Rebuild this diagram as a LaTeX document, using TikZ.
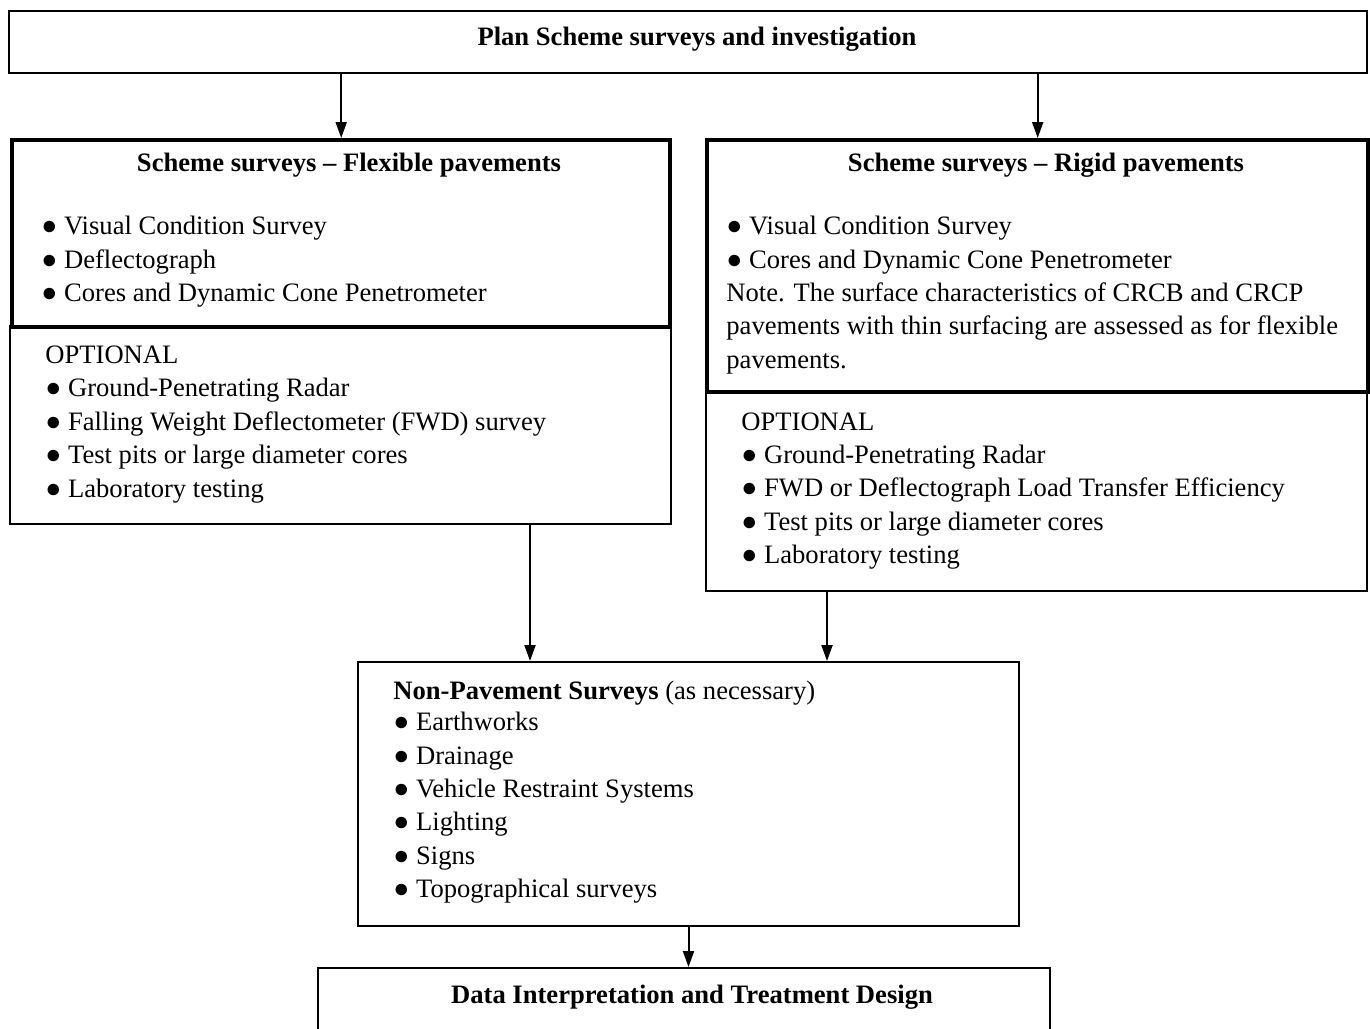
\documentclass[tikz,border=0pt]{standalone}
\usepackage{fontspec}
\setmainfont{Liberation Serif}
\usetikzlibrary{arrows.meta,calc}
\begin{document}
\begin{tikzpicture}[x=0.5pt,y=-0.5pt,
  thinbox/.style={draw=black,line width=1pt,rectangle,inner sep=0pt,anchor=north west},
  thickbox/.style={draw=black,line width=2.2pt,rectangle,inner sep=0pt,anchor=north west},
  txt/.style={anchor=base west,inner sep=0pt,font=\fontsize{13.3}{16.5}\selectfont},
  ctxt/.style={anchor=base,inner sep=0pt,font=\fontsize{13.3}{16.5}\selectfont\bfseries},
  arr/.style={line width=1pt,-{Triangle[length=8pt,width=5.5pt]}}]
\useasboundingbox (0,0) rectangle (1370,1028);
% boxes
\node[thinbox,minimum width=1358*0.5pt,minimum height=62*0.5pt] (top) at (8,10) {};
\node[thinbox,minimum width=661*0.5pt,minimum height=198*0.5pt] (flexopt) at (9,325) {};
\node[thickbox,minimum width=658*0.5pt,minimum height=187*0.5pt] (flex) at (10,138) {};
\node[thinbox,minimum width=661*0.5pt,minimum height=200*0.5pt] (rigopt) at (705,390) {};
\node[thickbox,minimum width=661*0.5pt,minimum height=252*0.5pt] (rig) at (705,138) {};
\node[thinbox,minimum width=661*0.5pt,minimum height=264*0.5pt] (np) at (357,661) {};
\node[thinbox,minimum width=732*0.5pt,minimum height=90*0.5pt] (design) at (317,967) {};
% texts
\node[ctxt] (ttop) at (697,45) {Plan Scheme surveys and investigation};
\node[ctxt] (tflex) at (349,171) {Scheme surveys – Flexible pavements};
\node[txt] (f1) at (41,234) {● Visual Condition Survey};
\node[txt] (f2) at (41,268) {● Deflectograph};
\node[txt] (f3) at (41,301) {● Cores and Dynamic Cone Penetrometer};
\node[txt] (fo) at (45,363) {OPTIONAL};
\node[txt] (fo1) at (45,396) {● Ground-Penetrating Radar};
\node[txt] (fo2) at (45,430) {● Falling Weight Deflectometer (FWD) survey};
\node[txt] (fo3) at (45,463) {● Test pits or large diameter cores};
\node[txt] (fo4) at (45,497) {● Laboratory testing};
\node[ctxt] (trig) at (1046,171) {Scheme surveys – Rigid pavements};
\node[txt] (r1) at (726,234) {● Visual Condition Survey};
\node[txt] (r2) at (726,268) {● Cores and Dynamic Cone Penetrometer};
\node[txt] (n1) at (726,301) {Note. The surface characteristics of CRCB and CRCP};
\node[txt] (n2) at (726,334) {pavements with thin surfacing are assessed as for flexible};
\node[txt] (n3) at (726,368) {pavements.};
\node[txt] (ro) at (741,430) {OPTIONAL};
\node[txt] (ro1) at (741,463) {● Ground-Penetrating Radar};
\node[txt] (ro2) at (741,496) {● FWD or Deflectograph Load Transfer Efficiency};
\node[txt] (ro3) at (741,530) {● Test pits or large diameter cores};
\node[txt] (ro4) at (741,563) {● Laboratory testing};
\node[txt] (np0) at (393,699) {\textbf{Non-Pavement Surveys} (as necessary)};
\node[txt] (np1) at (393,730) {● Earthworks};
\node[txt] (np2) at (393,764) {● Drainage};
\node[txt] (np3) at (393,797) {● Vehicle Restraint Systems};
\node[txt] (np4) at (393,830) {● Lighting};
\node[txt] (np5) at (393,864) {● Signs};
\node[txt] (np6) at (393,897) {● Topographical surveys};
\node[ctxt] (tdesign) at (692,1003) {Data Interpretation and Treatment Design};
% connectors
\draw[arr] (top.south -| flex.north) -- (flex.north);
\draw[arr] (top.south -| rig.north) -- (rig.north);
\coordinate (a1) at (530,523);
\coordinate (a2) at (827,590);
\draw[arr] (a1) -- (a1 |- np.north);
\draw[arr] (a2) -- (a2 |- np.north);
\draw[arr] (np.south) -- (np.south |- design.north);
\end{tikzpicture}
\end{document}
